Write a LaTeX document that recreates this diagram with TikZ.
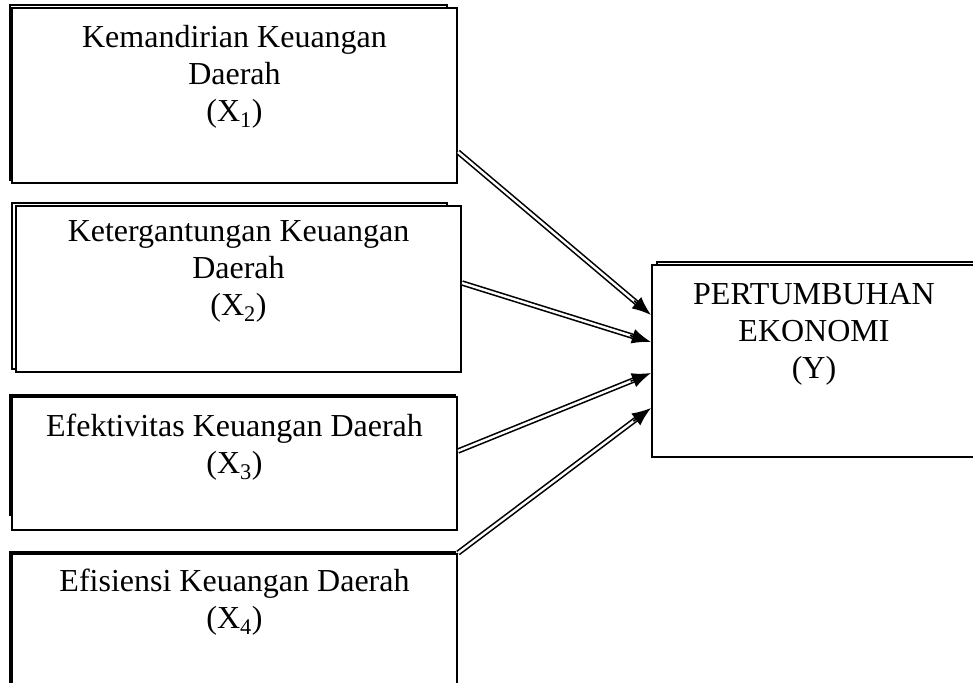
\documentclass[tikz,border=0pt]{standalone}
\usepackage{fontspec}
\setmainfont{Liberation Serif}
\usetikzlibrary{arrows.meta,calc}
\begin{document}
\begin{tikzpicture}[x=1pt,y=-1pt,
  box/.style={draw, line width=2pt, fill=white, rectangle, inner sep=0pt},
  shadowline/.style={draw, line width=1.6pt},
  lbl/.style={align=center, anchor=north, inner sep=0pt, font=\fontsize{32}{37}\selectfont},
  dbl/.style={double, double distance=2.4pt, line width=1.6pt, shorten >=14pt},
  tipend/.style={-{Latex[length=19pt,width=15pt]}, line width=1.6pt}]
\useasboundingbox (0,0) rectangle (973,682);
\clip (0,0) rectangle (973,682);
% shadows
\draw[shadowline] (10,5) rectangle (447,180);
\draw[shadowline] (12,203) rectangle (447,369);
\draw[shadowline] (10,395) rectangle (455,515);
\draw[shadowline] (10,552) rectangle (455,700);
\draw[shadowline] (657,262) rectangle (985,455);
% boxes
\node[box, minimum width=445pt, minimum height=175pt] (b1) at (234.5,95.5) {};
\node[box, minimum width=445pt, minimum height=166pt] (b2) at (238.5,289) {};
\node[box, minimum width=445pt, minimum height=133pt] (b3) at (234.5,463.5) {};
\node[box, minimum width=445pt, minimum height=146pt] (b4) at (234.5,627) {};
\node[box, minimum width=324pt, minimum height=192pt] (y) at (814,361) {};
% labels
\node[lbl] (t1) at ([yshift=-18pt]b1.north) {Kemandirian Keuangan\\Daerah\\(X\textsubscript{1})};
\node[lbl] (t2) at ([yshift=-15pt]b2.north) {Ketergantungan Keuangan\\Daerah\\(X\textsubscript{2})};
\node[lbl] (t3) at ([yshift=-18pt]b3.north) {Efektivitas Keuangan Daerah\\(X\textsubscript{3})};
\node[lbl] (t4) at ([yshift=-16pt]b4.north) {Efisiensi Keuangan Daerah\\(X\textsubscript{4})};
\node[lbl] (ty) at ([yshift=-19pt]y.north) {PERTUMBUHAN\\EKONOMI\\(Y)};
% connector ends
\coordinate (a1) at ([yshift=-56.5pt]b1.east);
\coordinate (a2) at ([yshift=6pt]b2.east);
\coordinate (a3) at ([yshift=12.5pt]b3.east);
\coordinate (a4) at (b4.north east);
\coordinate (e1) at ([yshift=46pt]y.west);
\coordinate (e2) at ([yshift=19pt]y.west);
\coordinate (e3) at ([yshift=-12pt]y.west);
\coordinate (e4) at ([yshift=-47pt]y.west);
% arrows
\foreach \i in {1,2,3,4}{
  \draw[dbl] (a\i) -- (e\i);
  \draw[tipend] ($(e\i)!22pt!(a\i)$) -- (e\i);
}
\end{tikzpicture}
\end{document}
